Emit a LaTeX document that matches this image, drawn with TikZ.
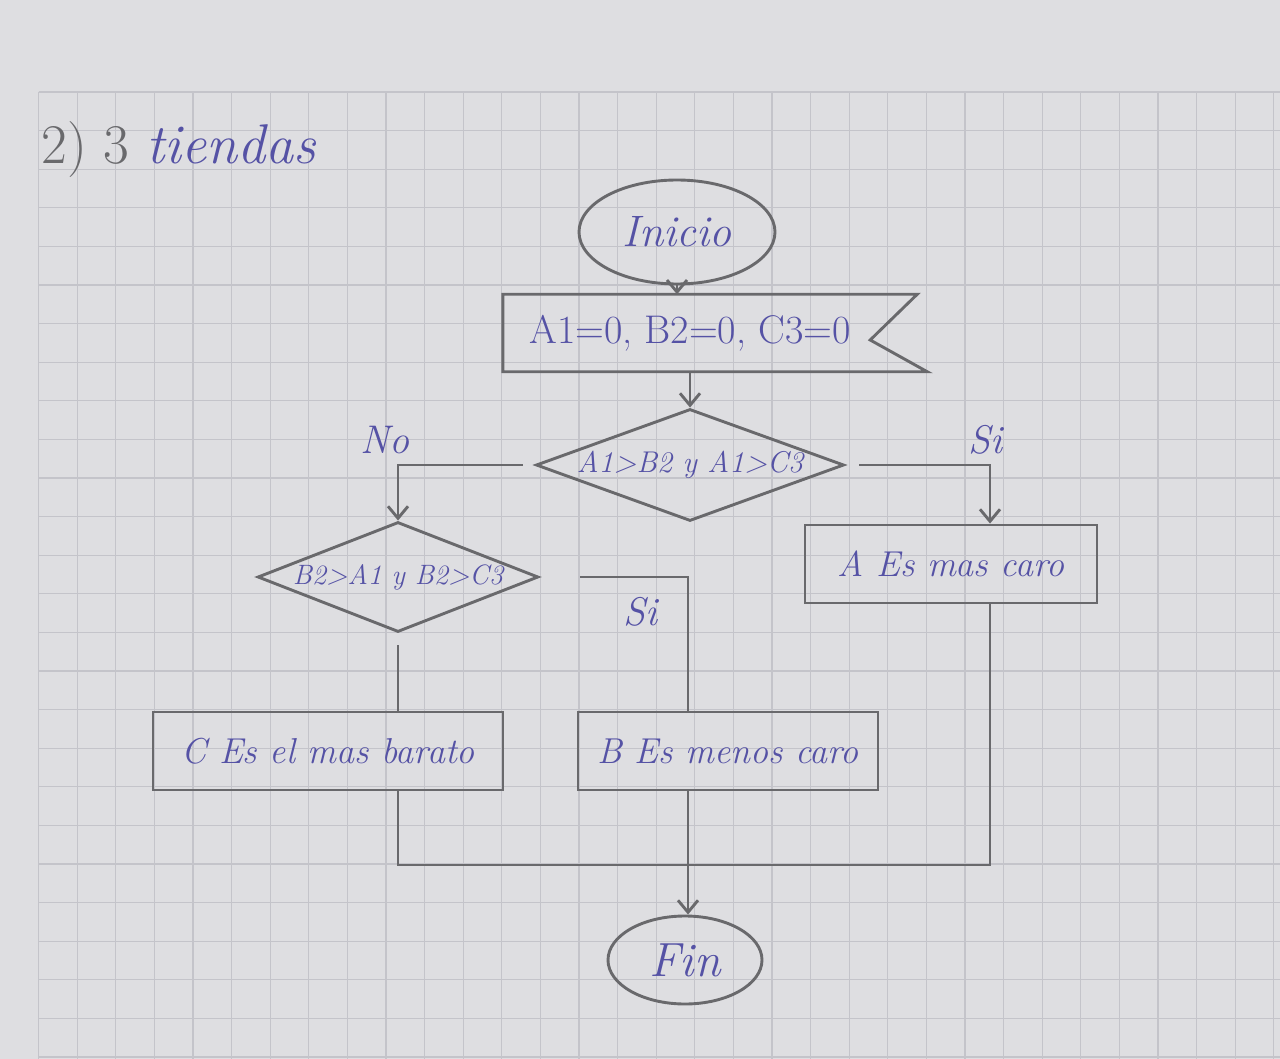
\documentclass[tikz,border=0pt]{standalone}
\usetikzlibrary{arrows,arrows.meta}
\usetikzlibrary{shapes.geometric}
\definecolor{paper}{RGB}{222,222,225}
\definecolor{gridgray}{RGB}{196,196,202}
\definecolor{pencil}{RGB}{105,105,108}
\definecolor{ink}{RGB}{85,82,165}

\begin{document}
\begin{tikzpicture}[>={Straight Barb[length=12pt,width=20pt]},x=1pt,y=-1pt]
			\tikzset{line/.style = {draw=pencil, line width=2.9pt},
				gridline/.style = {draw=gridgray, line width=1.2pt},
				txt/.style = {text=ink, font=\fontsize{36}{40}\itshape\selectfont},
				terminal/.style = {shape=ellipse, line, txt, inner sep=0pt},
				box/.style = {shape=rectangle, line, txt, inner sep=0pt, minimum height=78pt},
				decision/.style = {shape=diamond, line, txt, inner sep=0pt, shape aspect=2.75,
					font=\fontsize{30}{34}\itshape\selectfont}}
			\useasboundingbox (0,0) rectangle (1280,1059);
			\fill[paper] (0,0) rectangle (1280,1059);
			% cuadricula
			\foreach \i in {0,...,32}
				\draw[gridline] ({38.5+38.6*\i},92) -- ({38.5+38.6*\i},1059);
			\foreach \j in {0,...,25}
				\draw[gridline] (38.5,{92+38.6*\j}) -- (1280,{92+38.6*\j});
			
			\node[anchor=west, text=pencil, font=\fontsize{56}{60}\selectfont] (TITULO) at (38,150)
			{2) 3 \textcolor{ink}{\itshape tiendas}};
			
			\node[terminal, minimum width=196pt, minimum height=104pt,
				font=\fontsize{44}{48}\itshape\selectfont] (INICIO) at (677,232) {Inicio};
			\node[txt, inner sep=0pt, minimum width=374pt, minimum height=77pt,
				font=\fontsize{40}{44}\selectfont] (DATOS) at (690,333) {A1=0, B2=0, C3=0};
			\draw[line] (DATOS.north west) -- ([xshift=40pt]DATOS.north east)
				-- ([xshift=-7pt,yshift=-7pt]DATOS.east) -- ([xshift=50pt]DATOS.south east)
				-- (DATOS.south west) -- cycle;
			\node[decision, minimum width=308pt, minimum height=112pt] (DEC1) at (690,465) {A1>B2 y A1>C3};
			\node[decision, minimum width=278pt, minimum height=110pt,
				font=\fontsize{28}{32}\itshape\selectfont] (DEC2) at (398,577) {B2>A1 y B2>C3};
			\node[box, minimum width=292pt] (ACARO) at (951,564) {A Es mas caro};
			\node[box, minimum width=350pt] (CBARATO) at (328,751) {C Es el mas barato};
			\node[box, minimum width=300pt] (BCARO) at (728,751) {B Es menos caro};
			\node[terminal, minimum width=154pt, minimum height=88pt,
				font=\fontsize{48}{52}\itshape\selectfont] (FIN) at (685,960) {Fin};
			
			\node[txt, font=\fontsize{40}{44}\itshape\selectfont] (NO1) at (385,440) {No};
			\node[txt, font=\fontsize{40}{44}\itshape\selectfont] (SI1) at (985,440) {Si};
			\node[txt, font=\fontsize{40}{44}\itshape\selectfont] (SI2) at (640,612) {Si};
			
			\coordinate (UNION) at (688,865);
			
			\draw[line,->] (INICIO.south) -- (INICIO.south |- DATOS.north);
			\draw[line,->] (DATOS.south) -- (DEC1.north);
			\draw[line,->] ([xshift=-12pt]DEC1.west) -| (DEC2.north);
			\draw[line,->] ([xshift=14pt]DEC1.east) -| ([xshift=39pt]ACARO.north);
			\draw[line] ([xshift=40pt]DEC2.east) -| ([xshift=-40pt]BCARO.north);
			\draw[line] ([yshift=-12pt]DEC2.south) -- (DEC2.south |- CBARATO.north);
			\draw[line] (DEC2.south |- CBARATO.south) |- ([xshift=39pt]ACARO.south |- UNION)
				-- ([xshift=39pt]ACARO.south);
			\draw[line,->] ([xshift=-40pt]BCARO.south) -- ([xshift=-40pt]BCARO.south |- FIN.north);
\end{tikzpicture}
\end{document}
